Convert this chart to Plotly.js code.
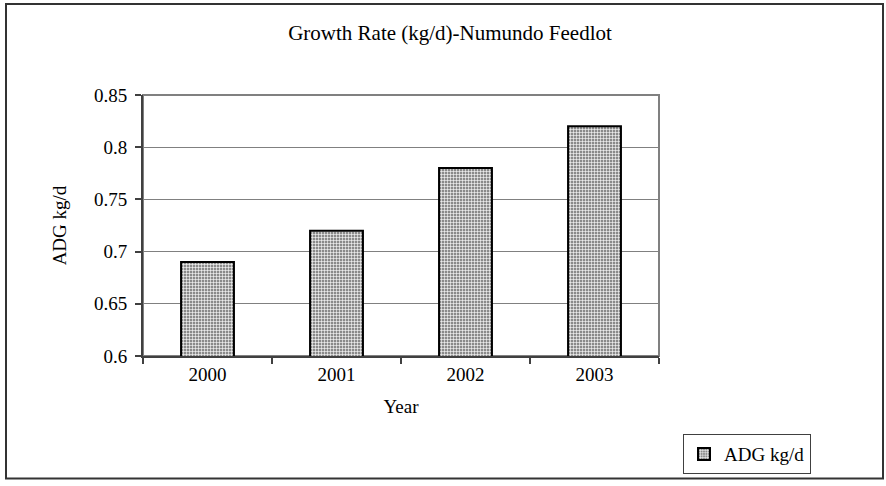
<!DOCTYPE html>
<html>
<head>
<meta charset="utf-8">
<script src="https://cdn.plot.ly/plotly-3.0.1.min.js"></script>
<style>
  html, body { margin: 0; padding: 0; background: #fff; }
  #chart { width: 886px; height: 486px; }
</style>
</head>
<body>
<div id="chart"></div>
<script>
const years = ['2000', '2001', '2002', '2003'];
const adg = [0.69, 0.72, 0.78, 0.82];
const seriesName = 'ADG kg/d';
const chartTitle = 'Growth Rate (kg/d)-Numundo Feedlot';
const yTicks = [0.6, 0.65, 0.7, 0.75, 0.8, 0.85];
const yTickText = ['0.6', '0.65', '0.7', '0.75', '0.8', '0.85'];

const W = 886, H = 486;
const L = 143, R = 659, T = 95, B = 359;
const pw = R - L, ph = B - T;
const px = v => (v - L) / pw;
const py = v => (B - v) / ph;

const serif = 'Liberation Serif, Times New Roman, serif';

const trace = {
  type: 'bar',
  x: years,
  y: adg,
  name: seriesName,
  showlegend: true,
  marker: {
    color: '#9c9c9c',
    line: { color: '#000', width: 2 },
    pattern: { shape: '+', fgcolor: '#ffffff', bgcolor: '#8a8a8a', size: 3, solidity: 0.35 }
  }
};

const layout = {
  width: W, height: H,
  margin: { l: L, r: W - R, t: T, b: H - B, pad: 0 },
  paper_bgcolor: '#fff',
  plot_bgcolor: '#fff',
  font: { family: serif, size: 19, color: '#000' },
  title: {
    text: chartTitle,
    font: { family: serif, size: 21, color: '#000' },
    x: 450 / W, xref: 'container', xanchor: 'center',
    y: 1 - 33 / H, yref: 'container', yanchor: 'middle'
  },
  bargap: 0.59,
  xaxis: {
    type: 'category',
    showline: true, linecolor: '#404040', linewidth: 2,
    ticks: 'outside', ticklen: 6, tickcolor: '#404040', tickwidth: 2,
    tickson: 'boundaries',
    showgrid: false,
    tickfont: { family: serif, size: 19 },
    title: { text: 'Year', font: { family: serif, size: 19 }, standoff: 16 },
    automargin: false
  },
  yaxis: {
    range: [0.6, 0.85],
    tickvals: yTicks, ticktext: yTickText,
    showline: true, linecolor: '#404040', linewidth: 2,
    ticks: 'outside', ticklen: 6, tickcolor: '#404040', tickwidth: 2,
    ticklabelstandoff: 4,
    showgrid: true, gridcolor: '#808080', gridwidth: 1,
    zeroline: false,
    tickfont: { family: serif, size: 19 },
    title: { text: 'ADG kg/d', font: { family: serif, size: 19 }, standoff: 22 },
    automargin: false
  },
  legend: {
    x: px(683), y: py(438), xanchor: 'left', yanchor: 'top',
    bordercolor: '#404040', borderwidth: 1,
    bgcolor: '#fff',
    font: { family: serif, size: 19 },
    itemwidth: 30,
    tracegroupgap: 0
  },
  shapes: [
    { type: 'rect', xref: 'paper', yref: 'paper', x0: 0, x1: 1, y0: 0, y1: 1,
      line: { color: '#808080', width: 2 }, layer: 'below' },
    { type: 'rect', xref: 'paper', yref: 'paper',
      x0: px(6), x1: px(883), y0: py(483), y1: py(3),
      line: { color: '#333', width: 2 }, layer: 'below' }
  ]
};

Plotly.newPlot('chart', [trace], layout, { displayModeBar: false, staticPlot: true });
</script>
</body>
</html>
